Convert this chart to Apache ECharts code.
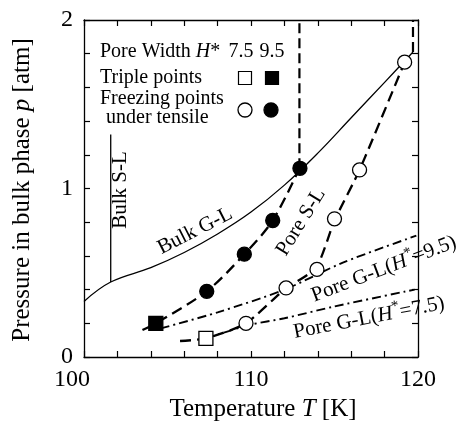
<!DOCTYPE html>
<html>
<head>
<meta charset="utf-8">
<script src="https://cdn.jsdelivr.net/npm/echarts@6/dist/echarts.min.js"></script>
<style>
  html, body { margin: 0; padding: 0; background: #fff; }
  #chart { width: 464px; height: 422px; }
</style>
</head>
<body>
<div id="chart"></div>
<script>
// temperature [K], pressure [atm]
const xTicks = [100, 110, 120]
const yTicks = [0, 1, 2]

// curves
const bulkGL = [[100, 0.33], [101.6, 0.445], [104, 0.53], [106, 0.62], [108, 0.73], [110, 0.86], [112, 1.02], [114, 1.21], [116, 1.42], [118, 1.63], [119.7, 1.81]]
const bulkSL = [[101.6, 0.445], [101.6, 1.32]]
const poreSL95 = [[103.5, 0.16], [104.3, 0.2], [107.35, 0.39], [109.6, 0.61], [111.3, 0.81], [112.9, 1.12]]
const poreSL75 = [[105.75, 0.095], [107.3, 0.11], [109.7, 0.2], [112.0, 0.4], [113.9, 0.53], [115.0, 0.81], [116.5, 1.11], [119.2, 1.75]]
const poreGL95 = [[104.6, 0.17], [108.0, 0.265], [112.0, 0.40], [115.5, 0.56], [119.9, 0.72]]
const poreGL75 = [[107.3, 0.11], [109.9, 0.19], [112.0, 0.23], [115.0, 0.30], [119.8, 0.40]]
const vLine1 = [[112.9, 1.12], [112.9, 2]]
const vLine2 = [[119.7, 1.81], [119.7, 2]]

// points
const triple95 = [[104.3, 0.2]]
const triple75 = [[107.3, 0.11]]
const freeze95 = [[107.35, 0.39], [109.6, 0.61], [111.3, 0.81], [112.93, 1.12]]
const freeze75 = [[109.7, 0.2], [112.1, 0.41], [113.95, 0.52], [115.0, 0.82], [116.5, 1.11], [119.2, 1.75]]

const FONT = '"Liberation Serif", "DejaVu Serif", serif'

let myChart = echarts.init(document.getElementById('chart'), null, { renderer: 'canvas' })

function line(data, type, width, smooth) {
  return {
    type: 'line', data: data, symbol: 'none', smooth: smooth || false,
    silent: true, z: 2,
    lineStyle: { color: '#000', width: width, type: type }
  }
}
function dots(data, symbol, filled) {
  return {
    type: 'scatter', data: data, symbol: symbol, symbolSize: 14, z: 5, silent: true,
    itemStyle: { color: filled ? '#000' : '#fff', borderColor: '#000', borderWidth: 1.3, opacity: 1 }
  }
}
function txt(x, y, text, size, rot, rich, align) {
  return {
    type: 'text', x: x, y: y, rotation: (rot || 0) * Math.PI / 180, z: 10,
    style: {
      text: text, fill: '#000', font: size + 'px ' + FONT,
      align: align || 'center', verticalAlign: 'middle', rich: rich || undefined
    }
  }
}
function richSet(size) {
  return {
    n: { fontFamily: FONT, fontSize: size, color: '#000' },
    i: { fontFamily: FONT, fontSize: size, fontStyle: 'italic', color: '#000' },
    // superscript star: lifted with bottom padding
    s: { fontFamily: FONT, fontSize: Math.round(size * 0.7), color: '#000', padding: [0, 0, Math.round(size * 0.6), 0] }
  }
}

const axisBase = {
  type: 'value',
  axisLine: { show: true, onZero: false, lineStyle: { color: '#000', width: 1.3 } },
  axisTick: { show: true, inside: true, length: 6, lineStyle: { color: '#000', width: 1.2 } },
  splitLine: { show: false }
}

var option = {
  animation: false,
  backgroundColor: '#fff',
  grid: { left: 84, right: 46, top: 20, bottom: 65 },
  xAxis: [
    Object.assign({}, axisBase, {
      min: 100, max: 120, interval: 2, position: 'bottom',
      axisLabel: {
        margin: 11, fontFamily: FONT, fontSize: 24, color: '#000',
        formatter: function (v) {
          if (xTicks.indexOf(v) < 0) return ''
          return v === xTicks[0] ? '{l|' + v + '}' : String(v)
        },
        rich: { l: { fontFamily: FONT, fontSize: 24, color: '#000', padding: [0, 24, 0, 0] } }
      }
    }),
    Object.assign({}, axisBase, { min: 100, max: 120, interval: 2, position: 'top', axisLabel: { show: false } })
  ],
  yAxis: [
    Object.assign({}, axisBase, {
      min: 0, max: 2, interval: 0.2, position: 'left',
      axisLabel: {
        margin: 11, fontFamily: FONT, fontSize: 24, color: '#000',
        formatter: function (v) {
          let r = Math.round(v)
          return Math.abs(v - r) < 1e-6 && yTicks.indexOf(r) >= 0 ? String(r) : ''
        }
      }
    }),
    Object.assign({}, axisBase, { min: 0, max: 2, interval: 0.2, position: 'right', axisLabel: { show: false } })
  ],
  series: [
    line(bulkGL, 'solid', 1.3, 0.4),
    line(bulkSL, 'solid', 1.3),
    line(poreSL95, [11, 6], 2.3, 0.3),
    line(poreSL75, [11, 6], 2.3, 0.2),
    line(poreGL95, [9, 4, 2, 4], 1.9, 0.3),
    line(poreGL75, [9, 4, 2, 4], 1.9, 0.3),
    line(vLine1, [10, 5], 2.2),
    line(vLine2, [10, 5], 2.2),
    dots(triple95, 'rect', true),
    dots(triple75, 'rect', false),
    dots(freeze95, 'circle', true),
    dots(freeze75, 'circle', false)
  ],
  graphic: [
    // axis names
    txt(263, 409, '{n|Temperature }{i|T}{n| [K]}', 25, 0, richSet(25)),
    txt(22, 190, '{n|Pressure in bulk phase }{i|p}{n| [atm]}', 25, 90, richSet(25)),
    // legend block
    txt(100, 52, '{n|Pore Width }{i|H}{n|*}', 20, 0, richSet(20), 'left'),
    txt(241, 52, '7.5', 20),
    txt(272, 52, '9.5', 20),
    txt(100, 78, 'Triple points', 20, 0, null, 'left'),
    txt(100, 99, 'Freezing points', 20, 0, null, 'left'),
    txt(106, 118, 'under tensile', 20, 0, null, 'left'),
    { type: 'rect', shape: { x: 238.5, y: 71.5, width: 13, height: 13 }, style: { fill: '#fff', stroke: '#000', lineWidth: 1.2 } },
    { type: 'rect', shape: { x: 265.5, y: 71.5, width: 13, height: 13 }, style: { fill: '#000', stroke: '#000', lineWidth: 1.2 } },
    { type: 'circle', shape: { cx: 245, cy: 110, r: 7 }, style: { fill: '#fff', stroke: '#000', lineWidth: 1.3 } },
    { type: 'circle', shape: { cx: 271, cy: 110, r: 7 }, style: { fill: '#000', stroke: '#000', lineWidth: 1.3 } },
    // curve labels
    txt(120, 190, 'Bulk S-L', 21, 90),
    txt(195, 231, 'Bulk G-L', 21, 27),
    txt(301, 222, 'Pore S-L', 21, 58),
    txt(384, 269, '{n|Pore G-L(}{i|H}{s|*}{n|=9.5)}', 21, 21, richSet(21)),
    txt(369, 318, '{n|Pore G-L(}{i|H}{s|*}{n|=7.5)}', 21, 11, richSet(21))
  ]
}
myChart.setOption(option)
</script>
</body>
</html>
